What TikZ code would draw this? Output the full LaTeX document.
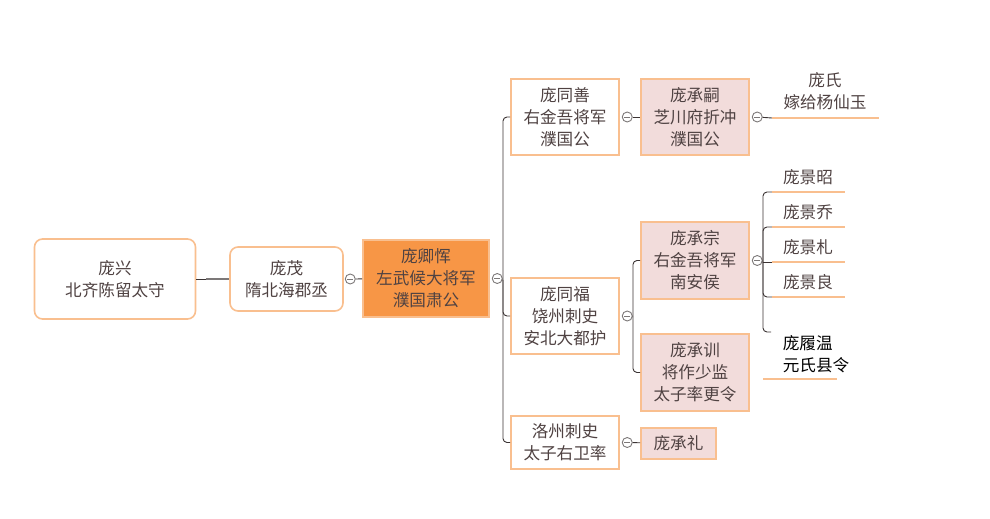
\documentclass[tikz,border=0pt]{standalone}
\usepackage{fontspec}
\setmainfont{Noto Sans CJK SC}
\usetikzlibrary{positioning}
\definecolor{mmorange}{HTML}{F9BF8F}
\definecolor{mmdeep}{HTML}{F79646}
\definecolor{mmpink}{HTML}{F2DCDB}
\definecolor{mmtext}{HTML}{4F4242}
\definecolor{mmline}{HTML}{3B3333}
\definecolor{mmgray}{HTML}{7C7878}

\begin{document}
\begin{tikzpicture}[
  x=1pt,y=-1pt,
  font=\fontsize{16.6}{22}\selectfont,
  person/.style={
    draw=mmorange,
    line width=1.6pt,
    fill=white,
    text=mmtext,
    align=center,
    inner sep=0pt
  },
  rootbox/.style={person,rounded corners=8pt},
  lordbox/.style={person,fill=mmdeep},
  heirbox/.style={person,fill=mmpink},
  leaf/.style={text=mmtext,align=center,inner sep=1pt},
  fold/.style={
    circle,
    draw=mmgray,
    fill=white,
    line width=0.9pt,
    minimum size=10pt,
    inner sep=0pt,
    path picture={\draw[mmgray,line width=0.9pt]
      ([xshift=-2.8pt]path picture bounding box.center) --
      ([xshift=2.8pt]path picture bounding box.center);}
  },
  link/.style={draw=mmline,line width=0.9pt},
  underl/.style={draw=mmorange,line width=1.8pt}
]
\useasboundingbox (0,0) rectangle (990,519);

% generations, left to right
\node[rootbox,minimum width=161pt,minimum height=80pt] (xing) at (115,279) {庞兴\\北齐陈留太守};
\node[rootbox,minimum width=113pt,minimum height=64pt] (mao) at (286.5,279) {庞茂\\隋北海郡丞};
\node[lordbox,minimum width=126pt,minimum height=77pt] (qing) at (426,278.5) {庞卿恽\\左武候大将军\\濮国肃公};

\node[person,minimum width=108pt,minimum height=76pt] (shan) at (565,117) {庞同善\\右金吾将军\\濮国公};
\node[person,minimum width=108pt,minimum height=76pt] (fu) at (565,316) {庞同福\\饶州刺史\\安北大都护};
\node[person,minimum width=108pt,minimum height=53pt] (luo) at (565,442.5) {洛州刺史\\太子右卫率};

\node[heirbox,minimum width=108pt,minimum height=76pt] (si) at (695,117) {庞承嗣\\芝川府折冲\\濮国公};
\node[heirbox,minimum width=108pt,minimum height=77pt] (zong) at (695,260.5) {庞承宗\\右金吾将军\\南安侯};
\node[heirbox,minimum width=108pt,minimum height=77pt] (xun) at (695,372.5) {庞承训\\将作少监\\太子率更令};
\node[heirbox,minimum width=75pt,minimum height=31pt] (li) at (678.5,443.5) {庞承礼};

% leaves
\node[leaf] (shi) at (825,91) {庞氏\\嫁给杨仙玉};
\node[leaf] (zhao) at (808,177) {庞景昭};
\node[leaf] (qiao) at (808,212) {庞景乔};
\node[leaf] (zha) at (808,247) {庞景札};
\node[leaf] (liang) at (808,282) {庞景良};
\node[leaf,text=black,align=left] (lv) at (816,354) {庞履温\\元氏县令};

\coordinate (shi-l) at (772,118);
\coordinate (shi-r) at (879,118);
\coordinate (zhao-l) at (772,192);
\coordinate (qiao-l) at (772,227);
\coordinate (zha-l) at (772,262);
\coordinate (liang-l) at (772,297);
\coordinate (lv-l) at (771,332);
\coordinate (bus1) at (503,280);
\coordinate (bus2) at (633,317);
\coordinate (bus3) at (763,262);

% collapse markers
\node[fold,right=1pt of mao] (f1) {};
\node[fold,right=2pt of qing] (f2) {};
\node[fold,right=2pt of shan] (f3) {};
\node[fold,right=2pt of si] (f4) {};
\node[fold,right=2pt of fu] (f5) {};
\node[fold,right=2pt of zong] (f6) {};
\node[fold,right=2pt of luo] (f7) {};

% connectors
\draw[link] (xing.east) -- ++(10,0) coordinate (xm);
\draw[draw=mmgray,line width=1.4pt] (xm) -- (mao.west);
\draw[link] (f1) -- (qing);
\draw[link] (f2) -- (bus1);
\draw[link,rounded corners=4pt] (shan.west) -| (bus1) |- (luo.west);
\draw[link,rounded corners=4pt] (bus1) |- (fu.west);
\draw[link] (f3) -- (si);
\draw[link] (f4) -- (shi-l);
\draw[link] (f5) -- (bus2);
\draw[link,rounded corners=4pt] (zong.west) -| (bus2) |- (xun.west);
\draw[link] (f6) -- (bus3);
\draw[link,rounded corners=4pt] (zhao-l) -| (bus3) |- (lv-l);
\draw[link,rounded corners=4pt] (bus3) |- (qiao-l);
\draw[link] (bus3) -- (zha-l);
\draw[link,rounded corners=4pt] (bus3) |- (liang-l);
\draw[link] (f7) -- (li);

% leaf underlines
\draw[underl] (shi-l) -- (shi-r);
\draw[underl] (zhao-l) -- ++(73,0);
\draw[underl] (qiao-l) -- ++(73,0);
\draw[underl] (zha-l) -- ++(73,0);
\draw[underl] (liang-l) -- ++(73,0);
\draw[underl] (763,379) coordinate (lv-u) -- ++(74,0);
\end{tikzpicture}
\end{document}
